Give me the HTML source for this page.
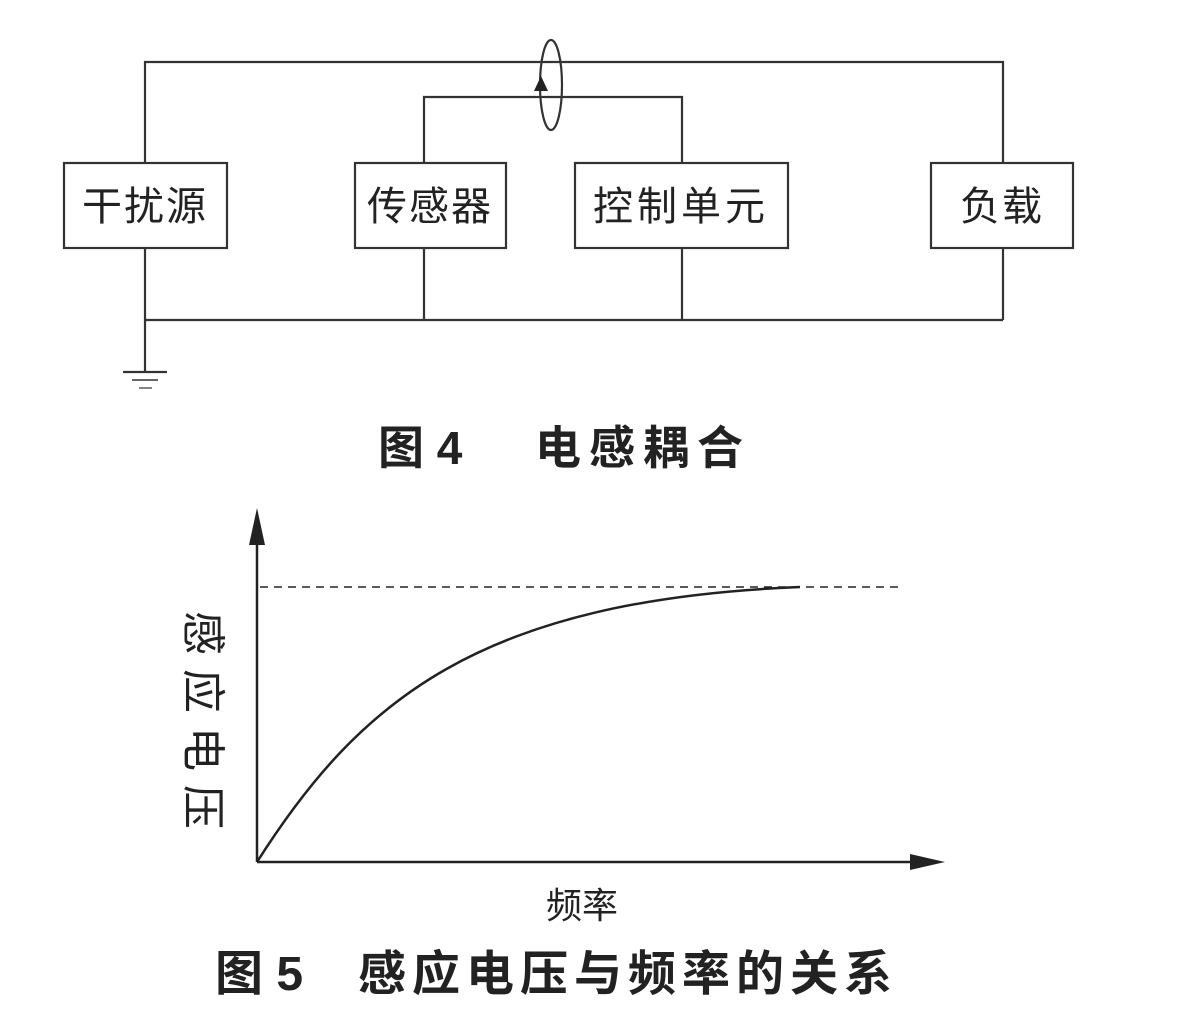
<!DOCTYPE html>
<html><head><meta charset="utf-8"><style>
body{margin:0;background:#fff;width:1182px;height:1014px;overflow:hidden}
svg text{font-family:"Liberation Sans","Noto Sans CJK SC",sans-serif;fill:#222}
</style></head><body>
<svg width="1182" height="1014" viewBox="0 0 1182 1014">
<g stroke="#333" stroke-width="2.2" fill="none">
<polyline points="145,163 145,62 1003,62 1003,163"/>
<polyline points="424,163 424,97 682,97 682,163"/>
<line x1="145" y1="248" x2="145" y2="372"/>
<line x1="145" y1="320" x2="1003" y2="320"/>
<line x1="424" y1="248" x2="424" y2="320"/>
<line x1="682" y1="248" x2="682" y2="320"/>
<line x1="1003" y1="248" x2="1003" y2="320"/>
<line x1="123" y1="372" x2="167" y2="372"/>
<line x1="132" y1="380" x2="158" y2="380" stroke-width="1.5"/>
<line x1="139" y1="388" x2="152" y2="388" stroke-width="1.2"/>
<rect x="64" y="163" width="163" height="85"/>
<rect x="355" y="163" width="151" height="85"/>
<rect x="575" y="163" width="213" height="85"/>
<rect x="931" y="163" width="142" height="85"/>
<ellipse cx="551" cy="85" rx="11" ry="45"/>
</g>
<polygon points="541,76 534,91 548,91" fill="#222"/>
<g font-size="40" text-anchor="middle">
<text x="145" y="220" letter-spacing="2">干扰源</text>
<text x="430" y="220" letter-spacing="2">传感器</text>
<text x="681" y="220" letter-spacing="4">控制单元</text>
<text x="1002" y="220" letter-spacing="2">负载</text>
</g>
<text x="378" y="464" font-size="46" font-weight="bold">图 4</text>
<text x="535" y="464" font-size="46" font-weight="bold" letter-spacing="8">电感耦合</text>
<g stroke="#222" stroke-width="2.5" fill="none">
<line x1="257" y1="540" x2="257" y2="862"/>
<line x1="257" y1="862" x2="915" y2="862"/>
<line x1="260" y1="587" x2="900" y2="587" stroke-width="1.5" stroke-dasharray="8,6"/>
<path d="M257,862 C360,700 480,600 800,587"/>
</g>
<polygon points="257,508 249,545 265,545" fill="#222"/>
<polygon points="945,862 910,854 910,870" fill="#222"/>
<text x="582" y="918" font-size="36" text-anchor="middle">频率</text>
<text font-size="44" transform="translate(188,727) rotate(90)" text-anchor="middle" letter-spacing="14">感应电压</text>
<text x="215" y="990" font-size="48" font-weight="bold">图 5</text>
<text x="358" y="990" font-size="48" font-weight="bold" letter-spacing="6">感应电压与频率的关系</text>
</svg>
</body></html>
